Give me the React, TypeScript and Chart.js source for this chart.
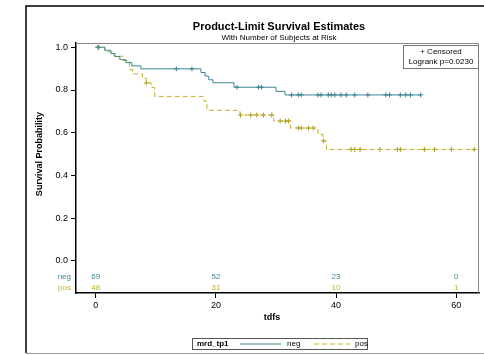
import React, { useEffect, useRef } from "react";
import { Chart, registerables } from "chart.js";

Chart.register(...registerables);

// Kaplan-Meier step data: event times and survival after each event
const negTimes = [0, 1.5, 2.5, 3.2, 4.0, 5.0, 6.0, 7.5, 17.5, 18.2, 18.8, 19.5, 23.0, 30.0, 31.5, 54.1];
const negSurv = [1, 0.986, 0.971, 0.957, 0.942, 0.928, 0.913, 0.899, 0.882, 0.865, 0.848, 0.834, 0.813, 0.794, 0.777, 0.777];
const negCensored = [0.5, 13.4, 16.0, 23.5, 27.1, 27.6, 32.6, 33.7, 34.2, 37.0, 37.5, 38.7, 39.2, 39.8, 40.8, 41.7, 43.1, 45.3, 48.3, 48.9, 50.7, 51.6, 52.4, 54.1];

const posTimes = [0, 1.5, 3.0, 4.5, 5.6, 6.1, 7.8, 8.4, 9.2, 9.8, 18.0, 18.5, 24.0, 29.6, 32.4, 37.0, 37.8, 38.4, 63.0];
const posSurv = [1, 0.979, 0.958, 0.938, 0.896, 0.875, 0.854, 0.833, 0.812, 0.770, 0.748, 0.705, 0.683, 0.655, 0.622, 0.592, 0.562, 0.522, 0.522];
const posCensored = [0.3, 8.4, 24.1, 25.8, 26.8, 27.9, 29.3, 30.7, 31.6, 32.1, 33.7, 34.2, 35.4, 36.2, 37.9, 42.5, 43.1, 44.0, 47.3, 50.2, 50.7, 54.7, 56.4, 59.2, 63.0];

// Number at risk table
const riskTimes = [0, 20, 40, 60];
const negAtRisk = [69, 52, 23, 0];
const posAtRisk = [48, 31, 10, 1];

const xTicks = [0, 20, 40, 60];
const yTicks = [0, 0.2, 0.4, 0.6, 0.8, 1.0];

const NEG_COLOR = "#3d8595";
const POS_COLOR = "#c4b22a";
const FONT = "'Liberation Sans', Arial, sans-serif";

function survivalAt(times: number[], surv: number[], t: number): number {
  let s = surv[0];
  for (let i = 0; i < times.length; i++) {
    if (times[i] <= t) s = surv[i];
  }
  return s;
}

const decorations = {
  id: "kmDecorations",
  afterDraw(chart: any) {
    const ctx = chart.ctx;
    const area = chart.chartArea;
    const xs = chart.scales.x;
    const ys = chart.scales.y;
    ctx.save();

    // outer graph frame
    ctx.strokeStyle = "#000";
    ctx.lineWidth = 1.5;
    ctx.beginPath();
    ctx.moveTo(26, 353);
    ctx.lineTo(26, 6);
    ctx.lineTo(484, 6);
    ctx.stroke();
    ctx.strokeStyle = "#999";
    ctx.lineWidth = 1;
    ctx.beginPath();
    ctx.moveTo(26, 353.5);
    ctx.lineTo(484, 353.5);
    ctx.stroke();

    // plot area top and right walls
    ctx.strokeStyle = "#888";
    ctx.lineWidth = 1;
    ctx.beginPath();
    ctx.moveTo(area.left, area.top + 0.5);
    ctx.lineTo(area.right - 0.5, area.top + 0.5);
    ctx.lineTo(area.right - 0.5, area.bottom);
    ctx.stroke();

    // titles
    ctx.fillStyle = "#000";
    ctx.textAlign = "center";
    ctx.textBaseline = "middle";
    ctx.font = `bold 11px ${FONT}`;
    ctx.fillText("Product-Limit Survival Estimates", 279, 27);
    ctx.font = `8px ${FONT}`;
    ctx.fillText("With Number of Subjects at Risk", 279, 37.5);

    // axis titles
    ctx.font = `bold 9px ${FONT}`;
    ctx.fillText("tdfs", 272, 318);
    ctx.save();
    ctx.translate(40, (ys.getPixelForValue(0) + ys.getPixelForValue(1)) / 2);
    ctx.rotate(-Math.PI / 2);
    ctx.fillText("Survival Probability", 0, 0);
    ctx.restore();

    // number at risk rows
    ctx.font = `8px ${FONT}`;
    const negY = ys.getPixelForValue(-0.075);
    const posY = ys.getPixelForValue(-0.127);
    ctx.textAlign = "right";
    ctx.fillStyle = NEG_COLOR;
    ctx.fillText("neg", 71, negY);
    ctx.fillStyle = POS_COLOR;
    ctx.fillText("pos", 71, posY);
    ctx.textAlign = "center";
    riskTimes.forEach((t, i) => {
      const px = xs.getPixelForValue(t);
      ctx.fillStyle = NEG_COLOR;
      ctx.fillText(String(negAtRisk[i]), px, negY);
      ctx.fillStyle = POS_COLOR;
      ctx.fillText(String(posAtRisk[i]), px, posY);
    });

    // inset: censored key and logrank test
    ctx.strokeStyle = "#777";
    ctx.lineWidth = 1;
    ctx.strokeRect(403.5, 45.5, 75, 23);
    ctx.fillStyle = "#000";
    ctx.font = `8px ${FONT}`;
    ctx.fillText("+ Censored", 441, 51.5);
    ctx.fillText("Logrank p=0.0230", 441, 62);

    // legend
    ctx.strokeStyle = "#555";
    ctx.strokeRect(192.5, 338.5, 175, 11);
    ctx.textAlign = "left";
    ctx.font = `bold 8px ${FONT}`;
    ctx.fillStyle = "#000";
    ctx.fillText("mrd_tp1", 197, 344);
    ctx.lineWidth = 1;
    ctx.strokeStyle = NEG_COLOR;
    ctx.beginPath();
    ctx.moveTo(240, 344);
    ctx.lineTo(281, 344);
    ctx.stroke();
    ctx.font = `8px ${FONT}`;
    ctx.fillStyle = "#000";
    ctx.fillText("neg", 287, 344);
    ctx.strokeStyle = POS_COLOR;
    ctx.setLineDash([5, 3]);
    ctx.beginPath();
    ctx.moveTo(314, 344);
    ctx.lineTo(350, 344);
    ctx.stroke();
    ctx.setLineDash([]);
    ctx.fillText("pos", 355, 344);

    ctx.restore();
  },
};

export default function App() {
  const canvasRef = useRef<HTMLCanvasElement | null>(null);

  useEffect(() => {
    const canvas = canvasRef.current;
    if (!canvas) return;

    const negCurve = negTimes.map((t, i) => ({ x: t, y: negSurv[i] }));
    const posCurve = posTimes.map((t, i) => ({ x: t, y: posSurv[i] }));
    const negMarks = negCensored.map((t) => ({ x: t, y: survivalAt(negTimes, negSurv, t) }));
    const posMarks = posCensored.map((t) => ({ x: t, y: survivalAt(posTimes, posSurv, t) }));

    const chart = new Chart(canvas, {
      type: "line",
      data: {
        datasets: [
          {
            label: "neg",
            data: negCurve,
            stepped: "before",
            borderColor: NEG_COLOR,
            borderWidth: 1,
            pointRadius: 0,
            fill: false,
          },
          {
            label: "pos",
            data: posCurve,
            stepped: "before",
            borderColor: POS_COLOR,
            borderWidth: 1,
            borderDash: [5, 3],
            pointRadius: 0,
            fill: false,
          },
          {
            label: "neg censored",
            data: negMarks,
            showLine: false,
            pointStyle: "cross",
            pointRadius: 2.5,
            borderColor: NEG_COLOR,
            borderWidth: 1,
          },
          {
            label: "pos censored",
            data: posMarks,
            showLine: false,
            pointStyle: "cross",
            pointRadius: 2.5,
            borderColor: "#a89620",
            borderWidth: 1,
          },
        ],
      },
      options: {
        animation: false,
        responsive: false,
        devicePixelRatio: 1,
        layout: { padding: { top: 43, left: 0, right: 2, bottom: 42 } },
        plugins: {
          legend: { display: false },
          title: { display: false },
          tooltip: { enabled: false },
        },
        scales: {
          x: {
            type: "linear",
            min: -3.3,
            max: 63.8,
            afterBuildTicks: (s: any) => {
              s.ticks = xTicks.map((v) => ({ value: v }));
            },
            afterFit: (s: any) => {
              s.height = 20;
            },
            grid: { drawOnChartArea: false, drawTicks: true, tickLength: 5, color: "#000" },
            border: { display: true, color: "#000", width: 1.5 },
            ticks: {
              color: "#000",
              padding: 2,
              maxRotation: 0,
              autoSkip: false,
              font: { family: FONT, size: 9 },
              callback: (v: any) => String(v),
            },
          },
          y: {
            type: "linear",
            min: -0.15,
            max: 1.02,
            afterBuildTicks: (s: any) => {
              s.ticks = yTicks.map((v) => ({ value: v }));
            },
            afterFit: (s: any) => {
              s.width = 76;
            },
            grid: { drawOnChartArea: false, drawTicks: true, tickLength: 5, color: "#000" },
            border: { display: true, color: "#000", width: 1.5 },
            ticks: {
              color: "#000",
              padding: 3,
              font: { family: FONT, size: 9 },
              callback: (v: any) => Number(v).toFixed(1),
            },
          },
        },
      },
      plugins: [decorations],
    });

    return () => chart.destroy();
  }, []);

  return (
    <canvas
      ref={canvasRef}
      width={484}
      height={355}
      style={{ position: "fixed", left: 0, top: 0, width: 484, height: 355, background: "#fff" }}
    />
  );
}
